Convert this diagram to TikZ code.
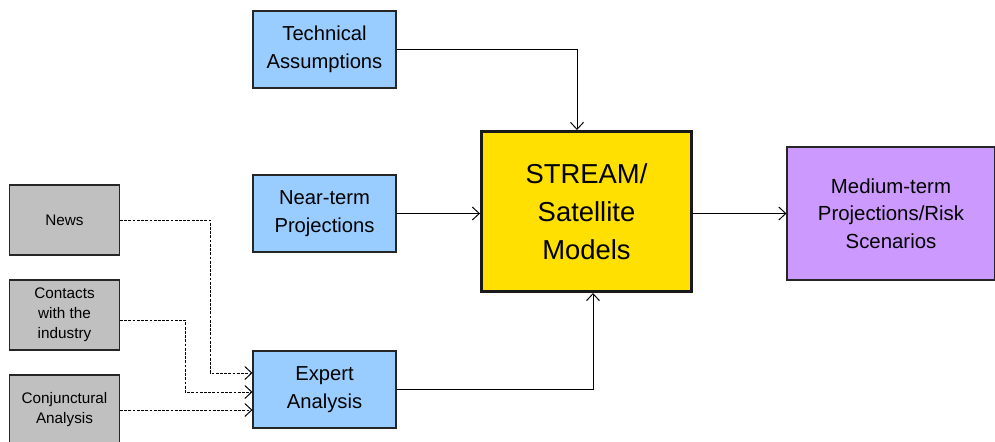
\documentclass[tikz,border=0pt]{standalone}
\usepackage{fontspec}
\setmainfont{Liberation Sans}
\usetikzlibrary{arrows.meta}

\definecolor{inblue}{HTML}{99CCFF}
\definecolor{srcgray}{HTML}{C0C0C0}
\definecolor{modyellow}{HTML}{FFE000}
\definecolor{outpurple}{HTML}{CC99FF}

\tikzset{
    inbox/.style={draw=black!85,line width=0.6pt,fill=inblue,align=center,
        minimum width=2.86cm,minimum height=1.54cm,inner sep=0pt,
        font=\fontsize{11.5}{16}\selectfont},
    srcbox/.style={draw=black!85,line width=0.6pt,fill=srcgray,align=center,
        minimum width=2.2cm,minimum height=1.4cm,inner sep=0pt,
        font=\fontsize{8.7}{11.4}\selectfont},
    link/.style={line width=0.55pt,->,>={Straight Barb[length=1.4mm,width=2.6mm]}},
    hint/.style={link,dash pattern=on 1.6pt off 0.8pt}
}

\begin{document}
\begin{tikzpicture}[x=0.02cm,y=-0.02cm]
    \useasboundingbox (0,0) rectangle (995,441);

    \node[inbox] (tech) at (324.5,49.5) {Technical\\Assumptions};
    \node[inbox] (near) at (324.5,213.5) {Near-term\\Projections};
    \node[inbox] (expert) at (324.5,389.5) {Expert\\Analysis};

    \node[draw=black!90,line width=1.7pt,fill=modyellow,align=center,
        minimum width=4.2cm,minimum height=3.2cm,inner sep=0pt,
        font=\fontsize{15.6}{21.6}\selectfont] (stream) at (586.5,211.5)
        {STREAM/\\Satellite\\Models};

    \node[draw=black!85,line width=0.6pt,fill=outpurple,align=center,
        minimum width=4.16cm,minimum height=2.66cm,inner sep=0pt,
        font=\fontsize{11.6}{15.6}\selectfont] (medium) at (891,213.5)
        {Medium-term\\Projections/Risk\\Scenarios};

    \node[srcbox] (news) at (64.5,220) {News};
    \node[srcbox] (contacts) at (64.5,315) {Contacts\\with the\\industry};
    \node[srcbox] (conj) at (64.5,410) {Conjunctural\\Analysis};

%    main flow
\draw [link] (tech.east) -| ([xshift=-0.19cm]stream.north);
\draw [link] (near.east) -- (near.east -| stream.west);
\draw [link] (stream.east |- near.east) -- (medium.west);
\draw [link] (expert.east) -| ([xshift=0.13cm]stream.south);

%    soft information
\draw [hint] (news.east) -- ++(1.8cm,0) |- ([yshift=0.33cm]expert.west);
\draw [hint] ([yshift=-0.1cm]contacts.east) -- ++(1.3cm,0) |- ([yshift=-0.05cm]expert.west);
\draw [hint] (conj.east) -- (conj.east -| expert.west);
\end{tikzpicture}
\end{document}
